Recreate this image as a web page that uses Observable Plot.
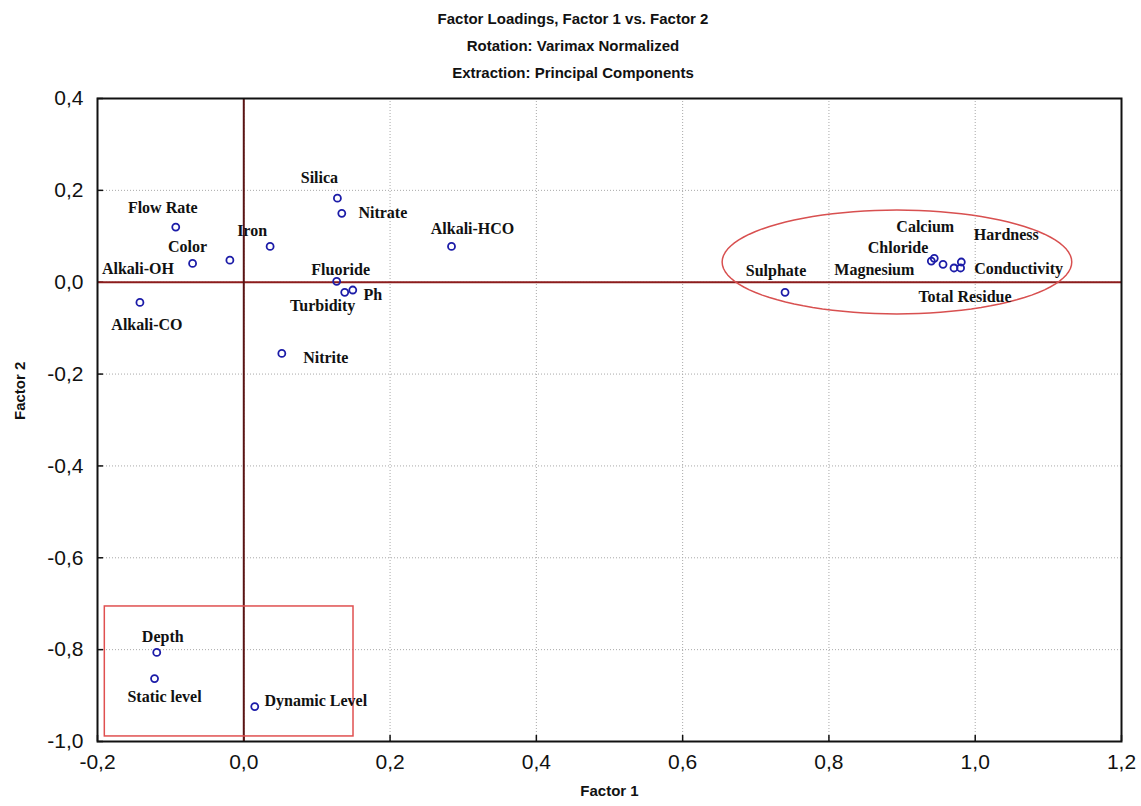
<!DOCTYPE html>
<html>
<head>
<meta charset="utf-8">
<script src="https://cdn.jsdelivr.net/npm/d3@7"></script>
<script src="https://cdn.jsdelivr.net/npm/@observablehq/plot@0.6"></script>
<style>
  body { margin: 0; background: #fff; }
  #title { width: 1146px; height: 86px; padding-top: 5px; box-sizing: border-box; text-align: center;
    font: bold 15px "Liberation Sans Narrow", "Arial Narrow", "Liberation Sans", sans-serif; line-height: 27px; color: #111; }
</style>
</head>
<body>
<div id="title">
  <div>Factor Loadings, Factor 1 vs. Factor 2</div>
  <div>Rotation: Varimax Normalized</div>
  <div>Extraction: Principal Components</div>
</div>
<div id="chart"></div>
<script>
const variables = ["Flow Rate","Color","Alkali-OH","Alkali-CO","Iron","Silica","Nitrate","Fluoride","Turbidity","Ph","Alkali-HCO","Nitrite",
  "Sulphate","Magnesium","Calcium","Chloride","Total Residue","Conductivity","Hardness","Depth","Static level","Dynamic Level"];
const factor1 = [-0.093,-0.070,-0.019,-0.142,0.036,0.128,0.134,0.127,0.138,0.149,0.284,0.052,
  0.740,0.940,0.944,0.956,0.971,0.980,0.981,-0.119,-0.122,0.015];
const factor2 = [0.120,0.041,0.048,-0.044,0.078,0.183,0.150,0.002,-0.022,-0.017,0.078,-0.155,
  -0.022,0.046,0.052,0.039,0.031,0.031,0.044,-0.806,-0.863,-0.924];
// label placement offsets (px) relative to each point
const labelDx = [-13,-5,-92,7,-18,-18,41,4,-22,20,21,44,-9,-57,-9,-45,11,58,45,6,10,61];
const labelDy = [-19,-17,9,22,-16,-20,0,-11,14,5,-18,4,-21,9,-31,-16,29,1,-27,-16,18,-6];
const xTicks = [-0.2,0.0,0.2,0.4,0.6,0.8,1.0,1.2];
const yTicks = [-1.0,-0.8,-0.6,-0.4,-0.2,0.0,0.2,0.4];
const boxRegion = [{x1:-0.19, x2:0.15, y1:-0.989, y2:-0.706}];
const ellipseRegion = {cx:0.893, cy:0.044, rx:0.239, ry:0.113};

const data = variables.map((name,i)=>({name, f1:factor1[i], f2:factor2[i], dx:labelDx[i], dy:labelDy[i]}));
const ellipsePts = d3.range(0, 101).map(k => {
  const t = 2*Math.PI*k/100;
  return {x: ellipseRegion.cx + ellipseRegion.rx*Math.cos(t), y: ellipseRegion.cy + ellipseRegion.ry*Math.sin(t)};
});
const fmt = d => d3.format(".1f")(d).replace(".", ",").replace("\u2212", "-");

const W = 1141, H = 720, mL = 97, mR = 20, mT = 12, mB = 65;
const pw = W - mL - mR, ph = H - mT - mB;
const labelFont = "'Liberation Serif', 'Times New Roman', serif";
const axisFont = "'Liberation Sans Narrow', 'Arial Narrow', 'Liberation Sans', sans-serif";

const plot = Plot.plot({
  width: W, height: H, marginLeft: mL, marginRight: mR, marginTop: mT, marginBottom: mB,
  style: {fontFamily: "'Liberation Sans', Arial, sans-serif", fontSize: "21px", color: "#111", background: "#fff"},
  x: {domain: [-0.2, 1.2], ticks: xTicks, tickFormat: fmt, tickSize: 0, tickPadding: 13, label: null},
  y: {domain: [-1.0, 0.4], ticks: yTicks, tickFormat: fmt, tickSize: 0, tickPadding: 14, label: null},
  marks: [
    Plot.ruleX(xTicks, {x: d => d, stroke: "#a8a8a8", strokeDasharray: "1,2", strokeWidth: 1}),
    Plot.ruleY(yTicks, {y: d => d, stroke: "#a8a8a8", strokeDasharray: "1,2", strokeWidth: 1}),
    Plot.ruleX(xTicks, {x: d => d, stroke: "#111", strokeWidth: 1.5, insetTop: ph - 6}),
    Plot.ruleY(yTicks, {y: d => d, stroke: "#111", strokeWidth: 1.5, insetRight: pw - 6}),
    Plot.ruleY([0], {stroke: "#8c1c1c", strokeWidth: 2}),
    Plot.ruleX([0], {stroke: "#5a1414", strokeWidth: 2}),
    Plot.rect(boxRegion, {x1: "x1", x2: "x2", y1: "y1", y2: "y2", fill: "none", stroke: "#e05050", strokeWidth: 1.5}),
    Plot.line(ellipsePts, {x: "x", y: "y", stroke: "#d85050", strokeWidth: 1.5}),
    Plot.frame({stroke: "#111", strokeWidth: 2}),
    Plot.dot(data, {x: "f1", y: "f2", r: 3.5, stroke: "#1c1ca8", strokeWidth: 1.8, fill: "none"}),
    ...data.map(d => Plot.text([d], {x: "f1", y: "f2", text: "name", dx: d.dx, dy: d.dy,
      fontFamily: labelFont, fontWeight: "bold", fontSize: 16, fill: "#111"})),
    Plot.text(["Factor 1"], {frameAnchor: "bottom", dy: 54, fontFamily: axisFont, fontWeight: "bold", fontSize: 15, fill: "#111"}),
    Plot.text(["Factor 2"], {frameAnchor: "left", dx: -77, rotate: -90, fontFamily: axisFont, fontWeight: "bold", fontSize: 15, fill: "#111"})
  ]
});
document.getElementById("chart").appendChild(plot);
</script>
</body>
</html>
